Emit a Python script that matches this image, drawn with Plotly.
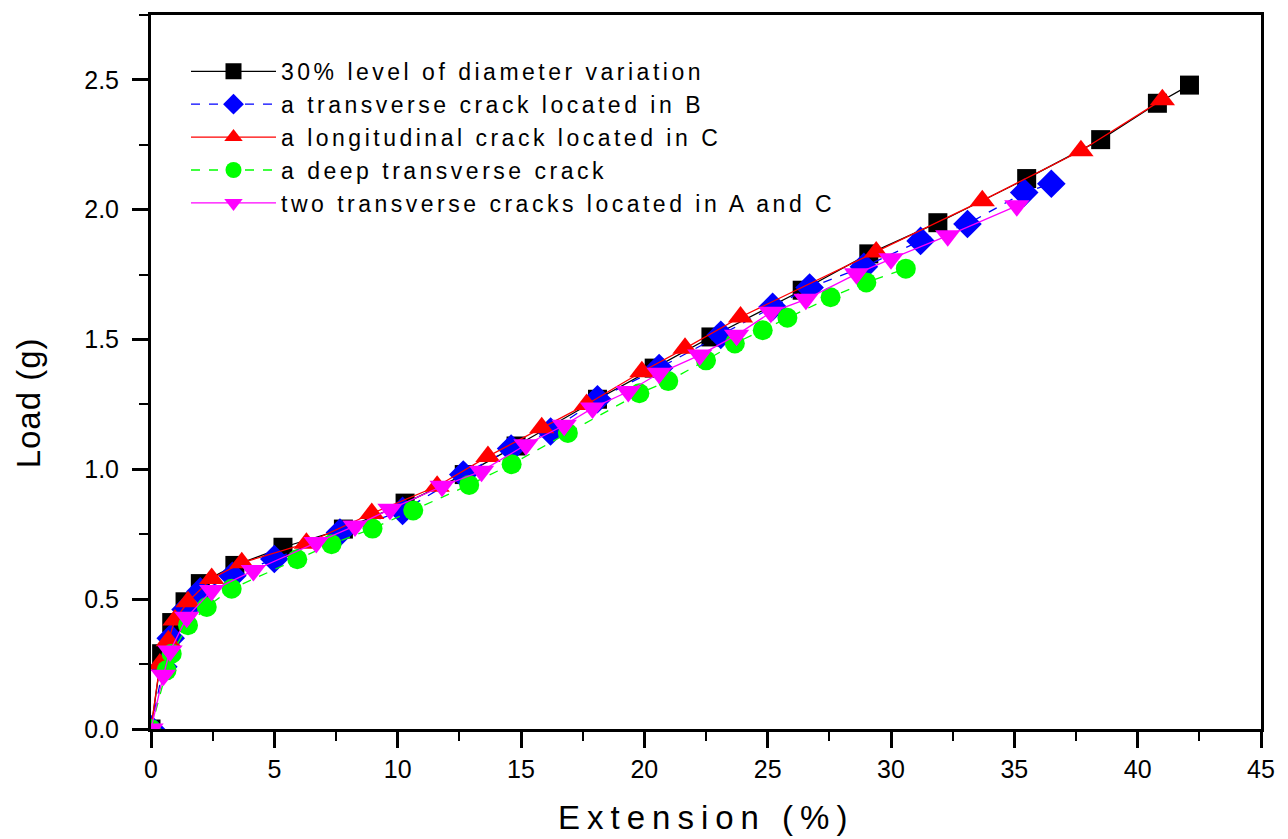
import plotly.graph_objects as go

# ---- data (Extension %, Load g) ----
black_x = [0, 0.43, 0.84, 1.38, 2.0, 3.4, 5.35, 7.8, 10.3, 12.7, 14.8, 18.1, 20.4, 22.7, 26.4, 29.1, 31.9, 35.5, 38.5, 40.8, 42.1]
black_y = [0, 0.29, 0.41, 0.49, 0.56, 0.63, 0.70, 0.77, 0.87, 0.98, 1.09, 1.27, 1.39, 1.51, 1.69, 1.83, 1.95, 2.12, 2.27, 2.41, 2.48]

blue_x = [0, 0.5, 0.8, 1.4, 2.0, 3.3, 5.0, 7.66, 10.2, 12.66, 14.6, 16.2, 18.1, 20.6, 23.1, 25.2, 26.7, 28.9, 31.2, 33.1, 35.4, 36.5]
blue_y = [0, 0.24, 0.35, 0.46, 0.53, 0.59, 0.655, 0.757, 0.84, 0.98, 1.08, 1.146, 1.27, 1.39, 1.518, 1.626, 1.70, 1.78, 1.88, 1.945, 2.066, 2.10]

red_x = [0, 0.36, 0.7, 0.97, 1.5, 2.46, 3.68, 6.3, 8.95, 11.6, 13.66, 15.84, 17.66, 19.9, 21.65, 23.9, 29.4, 33.7, 37.7, 41.0]
red_y = [0, 0.25, 0.34, 0.42, 0.49, 0.58, 0.64, 0.715, 0.83, 0.935, 1.05, 1.16, 1.25, 1.376, 1.466, 1.587, 1.837, 2.035, 2.227, 2.424]

green_x = [0, 0.63, 0.84, 1.5, 2.26, 3.27, 5.93, 7.32, 8.98, 10.63, 12.9, 14.62, 16.9, 19.8, 20.97, 22.5, 23.67, 24.8, 25.8, 27.55, 29.0, 30.6]
green_y = [0, 0.226, 0.29, 0.40, 0.47, 0.54, 0.654, 0.712, 0.772, 0.842, 0.94, 1.02, 1.14, 1.293, 1.34, 1.42, 1.485, 1.536, 1.584, 1.663, 1.72, 1.773]

mag_x = [0, 0.5, 0.77, 1.45, 2.46, 4.15, 6.7, 8.27, 9.69, 11.8, 13.4, 15.2, 16.75, 17.9, 19.35, 20.6, 22.25, 23.74, 25.13, 26.55, 28.6, 30.0, 32.3, 35.1]
mag_y = [0, 0.207, 0.30, 0.43, 0.533, 0.61, 0.718, 0.782, 0.846, 0.935, 0.993, 1.095, 1.17, 1.236, 1.30, 1.37, 1.44, 1.517, 1.605, 1.655, 1.753, 1.811, 1.90, 2.015]

names = [
    "30% level of diameter variation",
    "a transverse crack located in B",
    "a longitudinal crack located in C",
    "a deep transverse crack",
    "two transverse cracks located in A and C",
]

x_ticks = [0, 5, 10, 15, 20, 25, 30, 35, 40, 45]
y_ticks = [0.0, 0.5, 1.0, 1.5, 2.0, 2.5]
y_tick_text = ["0.0", "0.5", "1.0", "1.5", "2.0", "2.5"]

FONT = "Liberation Sans, Arial, sans-serif"


def spaced(t, sp=3):
    return f'<span style="letter-spacing:{sp}px">{t}</span>'


series = [
    (black_x, black_y, "#000000", "square", 19, "solid"),
    (blue_x, blue_y, "#0000ff", "diamond", 22, "dash"),
    (red_x, red_y, "#ff0000", "triangle-up", 22, "solid"),
    (green_x, green_y, "#00ff00", "circle", 20, "dash"),
    (mag_x, mag_y, "#ff00ff", "triangle-down", 22, "solid"),
]

fig = go.Figure()
for (xs, ys, col, sym, sz, dash), nm in zip(series, names):
    fig.add_trace(go.Scatter(
        x=xs, y=ys, mode="lines+markers", name=spaced(nm, 3.5),
        line=dict(color=col, width=1.3, dash=dash),
        marker=dict(symbol=sym, size=sz, color=col, line=dict(width=0)),
    ))

axis_common = dict(
    showgrid=False, zeroline=False, showline=True, linecolor="black", linewidth=3,
    ticks="outside", tickcolor="black", tickwidth=2.5, ticklen=16,
    mirror=True,
    tickfont=dict(family=FONT, size=25, color="black"),
)

fig.update_xaxes(
    range=[0, 45], tickvals=x_ticks, ticktext=[str(v) for v in x_ticks],
    minor=dict(dtick=2.5, tick0=0, ticks="outside", ticklen=9, tickwidth=2, tickcolor="black"),
    **axis_common,
)
fig.update_yaxes(
    range=[0, 2.75], tickvals=y_ticks, ticktext=y_tick_text,
    minor=dict(dtick=0.25, tick0=0, ticks="outside", ticklen=9, tickwidth=2, tickcolor="black"),
    ticklabelstandoff=8,
    **axis_common,
)

W, H = 1288, 839
pl, pr, pt, pb = 151, 27, 12, 110
pw, ph = W - pl - pr, H - pt - pb


def px_x(p):
    return (p - pl) / pw


def px_y(p):
    return (H - pb - p) / ph


fig.update_layout(
    width=W, height=H,
    margin=dict(l=pl, r=pr, t=pt, b=pb),
    plot_bgcolor="white", paper_bgcolor="white",
    font=dict(family=FONT, color="black"),
    showlegend=True,
    legend=dict(
        x=px_x(186), y=px_y(47), xanchor="left", yanchor="top",
        bgcolor="rgba(0,0,0,0)", borderwidth=0,
        font=dict(family=FONT, size=23, color="black"),
        itemwidth=85, tracegroupgap=0,
    ),
    annotations=[
        dict(text=spaced("Extension (%)", 7), x=px_x(706), xref="paper", y=px_y(818), yref="paper",
             xanchor="center", yanchor="middle",
             showarrow=False, font=dict(family=FONT, size=33, color="black")),
        dict(text=spaced("Load (g)", 1), x=px_x(28), xref="paper", y=px_y(402), yref="paper",
             xanchor="center", yanchor="middle",
             showarrow=False, textangle=-90, font=dict(family=FONT, size=33, color="black")),
    ],
)

fig.write_html("out.html")
